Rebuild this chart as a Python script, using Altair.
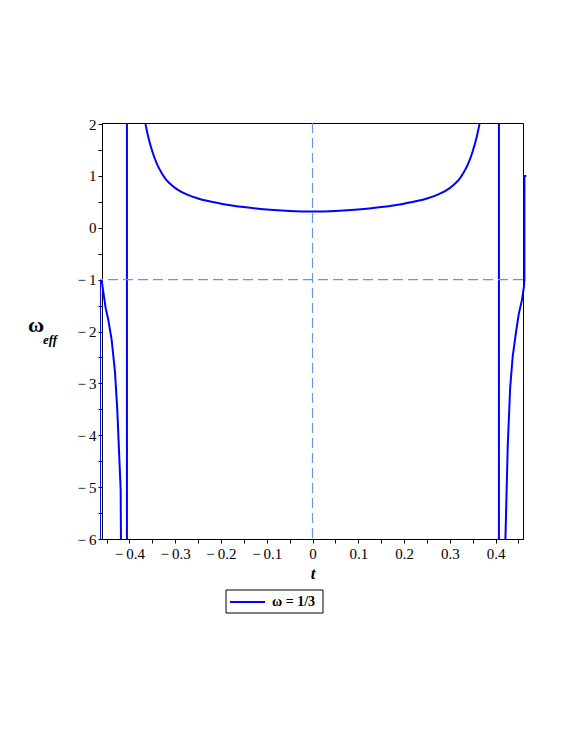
import altair as alt
import pandas as pd

# ---- data ----
t_left = [-0.4610, -0.4520, -0.4463, -0.4389, -0.4317, -0.4266, -0.4223, -0.4192, -0.4186]
y_left = [-1.0, -1.55, -1.77, -2.16, -2.77, -3.51, -4.41, -5.05, -6.0]

t_asym_l = [-0.4055, -0.4055]
y_asym_l = [-6.0, 2.02]

t_mid = [-0.365, -0.358, -0.35, -0.34, -0.33, -0.32, -0.31, -0.295, -0.275, -0.25, -0.20, -0.15, -0.10, -0.05,
         0.0, 0.05, 0.10, 0.15, 0.20, 0.25, 0.275, 0.295, 0.31, 0.32, 0.33, 0.34, 0.35, 0.358, 0.365]
y_mid = [2.0, 1.72, 1.47, 1.23, 1.06, 0.93, 0.84, 0.735, 0.645, 0.565, 0.465, 0.40, 0.352, 0.325,
         0.315, 0.325, 0.352, 0.40, 0.465, 0.565, 0.645, 0.735, 0.84, 0.93, 1.06, 1.23, 1.47, 1.72, 2.0]

t_asym_r = [0.4074, 0.4074]
y_asym_r = [-6.0, 2.02]

t_right = [0.4216, 0.4266, 0.4319, 0.4375, 0.4449, 0.4506, 0.4580, 0.4618, 0.4630, 0.4630, 0.4672]
y_right = [-6.0, -4.22, -3.09, -2.48, -2.0, -1.67, -1.38, -1.15, -1.0, 1.0, 1.0]

t_edge = [-0.4632, -0.4632]
y_edge = [-6.0, -1.0]

x_ticks = [-0.45, -0.4, -0.35, -0.3, -0.25, -0.2, -0.15, -0.1, -0.05, 0.0,
           0.05, 0.1, 0.15, 0.2, 0.25, 0.3, 0.35, 0.4, 0.45]
y_ticks = [-6, -5.5, -5, -4.5, -4, -3.5, -3, -2.5, -2, -1.5, -1, -0.5, 0, 0.5, 1, 1.5, 2]

legend_label = "ω = 1/3"

rows = []
for seg, ts, ys in [("left", t_left, y_left), ("asl", t_asym_l, y_asym_l),
                    ("asr", t_asym_r, y_asym_r), ("right", t_right, y_right)]:
    for i, (a, b) in enumerate(zip(ts, ys)):
        rows.append({"seg": seg, "i": i, "t": a, "w": b})
curves = pd.DataFrame(rows)
mid = pd.DataFrame({"t": t_mid, "w": y_mid})
edge = pd.DataFrame({"t": t_edge, "w": y_edge, "i": [0, 1]})

W, H = 421, 416
xs = alt.Scale(domain=[-0.46, 0.46], nice=False, zero=False)
ys = alt.Scale(domain=[-6, 2.02], nice=False, zero=False)

FONT = "Liberation Serif"

x_axis = alt.Axis(
    values=x_ticks, grid=False, domainColor="black", tickColor="black", tickSize=4,
    labelFont=FONT, labelFontSize=15, labelColor="black", labelPadding=3,
    labelOverlap=False, labelFlush=False, labelBound=False,
    labelExpr="abs(round(datum.value*100)) % 10 != 0 ? '' : (abs(datum.value) < 0.001 ? '0' : (datum.value < 0 ? '\u2212\u2009' + format(abs(datum.value), '.1f') : format(datum.value, '.1f')))",
    title="t", titleFont=FONT, titleFontSize=17, titleFontStyle="italic", titleFontWeight="bold",
    titleColor="black", titlePadding=4,
)
y_axis = alt.Axis(
    values=y_ticks, grid=False, domainColor="black", tickColor="black", tickSize=4,
    labelFont=FONT, labelFontSize=15, labelColor="black", labelPadding=2,
    labelOverlap=False, labelFlush=False, labelBound=False,
    labelExpr="datum.value % 1 != 0 ? '' : (datum.value < 0 ? '\u2212\u2009' + format(abs(datum.value), 'd') : format(datum.value, 'd'))",
    title=None,
)

X = alt.X("t:Q", scale=xs, axis=x_axis)
Y = alt.Y("w:Q", scale=ys, axis=y_axis)

base = alt.Chart(curves).mark_line(color="#0000FF", strokeWidth=2, clip=False).encode(
    x=X, y=Y, detail="seg:N", order="i:Q",
)

mid_line = alt.Chart(mid).mark_line(color="#0000FF", strokeWidth=2, interpolate="monotone").encode(
    x=X, y=Y
)

edge_line = alt.Chart(edge).mark_line(color="#0000FF", strokeWidth=1, clip=False).encode(
    x=X, y=Y, order="i:Q"
)

hdash = alt.Chart(pd.DataFrame({"w": [-1.0]})).mark_rule(
    color="#6495ED", strokeWidth=1.2, strokeDash=[10, 5]
).encode(y=Y)
vdash = alt.Chart(pd.DataFrame({"t": [0.0]})).mark_rule(
    color="#6495ED", strokeWidth=1.2, strokeDash=[10, 5]
).encode(x=X)

one = alt.Chart(pd.DataFrame({"a": [0]}))

# y-axis title: omega with subscript eff
ytitle_main = one.mark_text(font=FONT, fontSize=22, fontWeight="bold", color="black",
                            align="center", baseline="middle").encode(
    x=alt.value(-66), y=alt.value(202), text=alt.value("ω"))
ytitle_sub = one.mark_text(font=FONT, fontSize=13, fontWeight="bold", fontStyle="italic",
                           color="black", align="left", baseline="middle").encode(
    x=alt.value(-59), y=alt.value(217), text=alt.value("eff"))

# legend box
leg_box = one.mark_rect(fill="white", stroke="black", strokeWidth=1).encode(
    x=alt.value(124), x2=alt.value(221), y=alt.value(467), y2=alt.value(490))
leg_line = one.mark_rule(color="#0000FF", strokeWidth=2).encode(
    x=alt.value(128), x2=alt.value(163), y=alt.value(479))
leg_text = one.mark_text(font=FONT, fontSize=14, fontWeight="bold", color="black",
                         align="left", baseline="middle").encode(
    x=alt.value(170), y=alt.value(479), text=alt.value(legend_label))

chart = alt.layer(
    base, hdash, vdash, mid_line, edge_line, ytitle_main, ytitle_sub, leg_box, leg_line, leg_text
).properties(
    width=W, height=H,
    autosize=alt.AutoSizeParams(type="none"),
    padding={"left": 94, "top": 115, "right": 30, "bottom": 180},
).configure(
    background="white",
    view=alt.ViewConfig(stroke="black", strokeWidth=1),
)

chart.save("out.html", embed_options={"renderer": "svg", "actions": False})
